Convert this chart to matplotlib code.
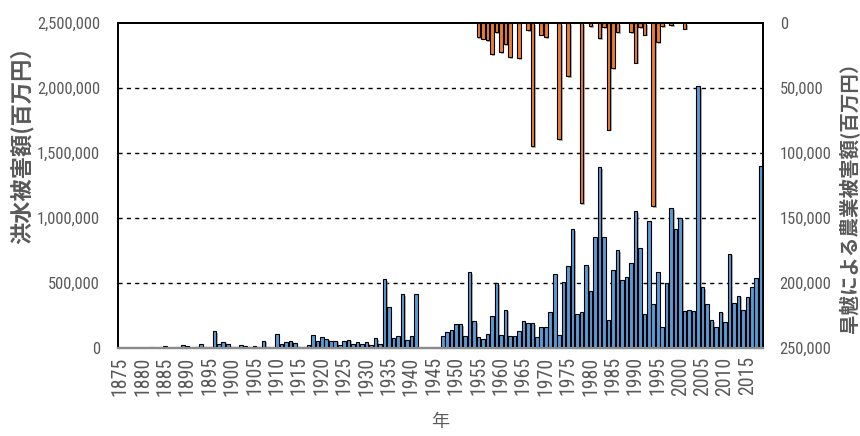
import numpy as np
import matplotlib
matplotlib.use("Agg")
import matplotlib.pyplot as plt
import matplotlib.patheffects as pe
from matplotlib import font_manager as fm
from matplotlib.ticker import FuncFormatter

# data
years = list(range(1875, 2019))

flood = [
    # 1875-1884
    3000, 2000, 3000, 2000, 3000, 2000, 3000, 4000, 2000, 3000,
    # 1885-1894
    18000, 3000, 3000, 5000, 25000, 15000, 3000, 6000, 33000, 10000,
    # 1895-1904
    10000, 128000, 33000, 49000, 31000, 6000, 4000, 23000, 15000, 5000,
    # 1905-1914
    15000, 8000, 56000, 4000, 3000, 110000, 31000, 49000, 56000, 38000,
    # 1915-1924
    10000, 5000, 23000, 100000, 51000, 87000, 72000, 51000, 56000, 26000,
    # 1925-1934
    57000, 64000, 28000, 47000, 33000, 46000, 26000, 77000, 33000, 531000,
    # 1935-1944
    313000, 77000, 92000, 415000, 62000, 94000, 415000, None, None, None,
    # 1945-1954
    None, 3000, 93000, 122000, 139000, 185000, 185000, 92000, 585000, 205000,
    # 1955-1964
    85000, 72000, 108000, 249000, 500000, 100000, 295000, 92000, 92000, 133000,
    # 1965-1974
    207000, 190000, 190000, 83000, 160000, 162000, 274000, 572000, 100000, 508000,
    # 1975-1984
    633000, 913000, 264000, 274000, 638000, 438000, 851000, 1390000, 851000, 218000,
    # 1985-1994
    600000, 754000, 523000, 546000, 654000, 1054000, 772000, 264000, 974000, 336000,
    # 1995-2004
    585000, 162000, 500000, 1077000, 913000, 1000000, 285000, 292000, 285000, 2015000,
    # 2005-2014
    467000, 341000, 213000, 162000, 279000, 203000, 726000, 346000, 403000, 290000,
    # 2015-2018
    390000, 467000, 538000, 1403000,
]

drought_start = 1955
drought = [
    # 1955-1964
    10800, 12000, 13300, 23800, 6900, 22300, 16100, 26400, 0, 26900,
    # 1965-1974
    0, 5600, 94600, 0, 9000, 10800, 0, 0, 89400, 0,
    # 1975-1984
    40800, 0, 0, 138700, 0, 2600, 0, 11500, 3300, 82000,
    # 1985-1994
    35000, 6900, 0, 0, 6900, 30600, 3300, 9000, 0, 141000,
    # 1995-2004
    14600, 2600, 0, 1800, 0, 0, 4400, 0, 0, 0,
    # 2005-2018
    0, 0, 0, 0, 0, 0, 0, 0, 0, 0, 0, 0, 0, 0,
]

tick_years = list(range(1875, 2016, 5))

left_label = "洪水被害額(百万円）"
right_label = "旱魃による農業被害額(百万円）"
x_label = "年"

# styles
blue = "#5B9BD5"
orange = "#ED7D31"
gray_txt = "#595959"
jp_font = ["Noto Sans CJK JP", "DejaVu Sans"]

# pick a narrow face for the numbers if one is installed
num_fp = None
names = {f.name for f in fm.fontManager.ttflist}
for c in ["Liberation Sans Narrow", "Arial Narrow", "Roboto Condensed", "Open Sans Condensed"]:
    if c in names:
        num_fp = fm.FontProperties(family=c)
        break
if num_fp is None:
    for f in fm.fontManager.ttflist:
        if f.name in ("Liberation Sans", "Roboto", "DejaVu Sans", "Open Sans") and "condensed" in str(f.stretch) \
                and f.weight in (400, "normal", "regular") and f.style == "normal":
            num_fp = fm.FontProperties(fname=f.fname)
            break
if num_fp is None:
    num_fp = fm.FontProperties(family="Liberation Sans")

x = np.arange(len(years))
flood_v = np.array([np.nan if v is None else v for v in flood], dtype=float)
drought_full = np.zeros(len(years))
off = drought_start - years[0]
drought_full[off:off + len(drought)] = drought

fig = plt.figure(figsize=(8.6, 4.36), dpi=100)
renderer = fig.canvas.get_renderer()


def size_for(text, target_px):
    fp = num_fp.copy()
    fp.set_size(10)
    t = fig.text(0, 0, text, fontproperties=fp)
    w = t.get_window_extent(renderer).width
    t.remove()
    return 10 * target_px / w


ysize = size_for("2,500,000", 63)
xsize = size_for("1875", 39)

ax = fig.add_axes([118 / 860, 1 - 348 / 436, (763 - 118) / 860, (348 - 23) / 436])
ax2 = ax.twinx()

shadow = [pe.SimplePatchShadow(offset=(1.2, -1.2), shadow_rgbFace="#808080", alpha=0.6), pe.Normal()]

bars = ax.bar(x, flood_v, width=0.8, color=blue, edgecolor="black", linewidth=0.8, zorder=3)
for b in bars:
    b.set_path_effects(shadow)

bars2 = ax2.bar(x, drought_full, width=0.8, color=orange, edgecolor="black", linewidth=0.8, zorder=3)
for b, v in zip(bars2, drought_full):
    if v == 0:
        b.set_visible(False)
    else:
        b.set_path_effects(shadow)

ax.set_xlim(-0.5, len(years) - 0.5)
ax.set_ylim(0, 2500000)
ax2.set_ylim(250000, 0)

ax.set_yticks(np.arange(0, 2500001, 500000))
ax2.set_yticks(np.arange(0, 250001, 50000))
ax.yaxis.set_major_formatter(FuncFormatter(lambda v, p: f"{int(v):,}"))
ax2.yaxis.set_major_formatter(FuncFormatter(lambda v, p: f"{int(v):,}"))

for yv in [500000, 1000000, 1500000, 2000000]:
    ax.axhline(yv, color="black", linestyle=(0, (3, 3)), linewidth=1.0, zorder=1)

ax.set_xticks([y - years[0] for y in tick_years])
ax.set_xticklabels([str(y) for y in tick_years], rotation=90)

for a in (ax, ax2):
    a.tick_params(length=0, colors=gray_txt)
for lab in ax.get_yticklabels() + ax2.get_yticklabels():
    lab.set_fontproperties(num_fp)
    lab.set_fontsize(ysize)
for lab in ax.get_xticklabels():
    lab.set_fontproperties(num_fp)
    lab.set_fontsize(xsize)
ax.tick_params(axis="y", pad=13)
ax2.tick_params(axis="y", pad=12)
ax.tick_params(axis="x", pad=6)

for a in (ax, ax2):
    for s in ("left", "right", "top"):
        a.spines[s].set_color("black")
        a.spines[s].set_linewidth(1.3)
    a.spines["bottom"].set_color("#8c8c8c")
    a.spines["bottom"].set_linewidth(1.6)

ax.set_ylabel(left_label, family=jp_font, fontsize=16, fontweight="bold", color=gray_txt)
ax.yaxis.set_label_coords(-0.13, 0.64)
ax2.set_ylabel(right_label, family=jp_font, fontsize=14, fontweight="bold", color=gray_txt, rotation=90)
ax2.yaxis.set_label_coords(1.118, 0.477)
ax.set_xlabel(x_label, family=jp_font, fontsize=13, color=gray_txt)
ax.xaxis.set_label_coords(0.5, -0.2)

fig.savefig("out.png", dpi=100)
